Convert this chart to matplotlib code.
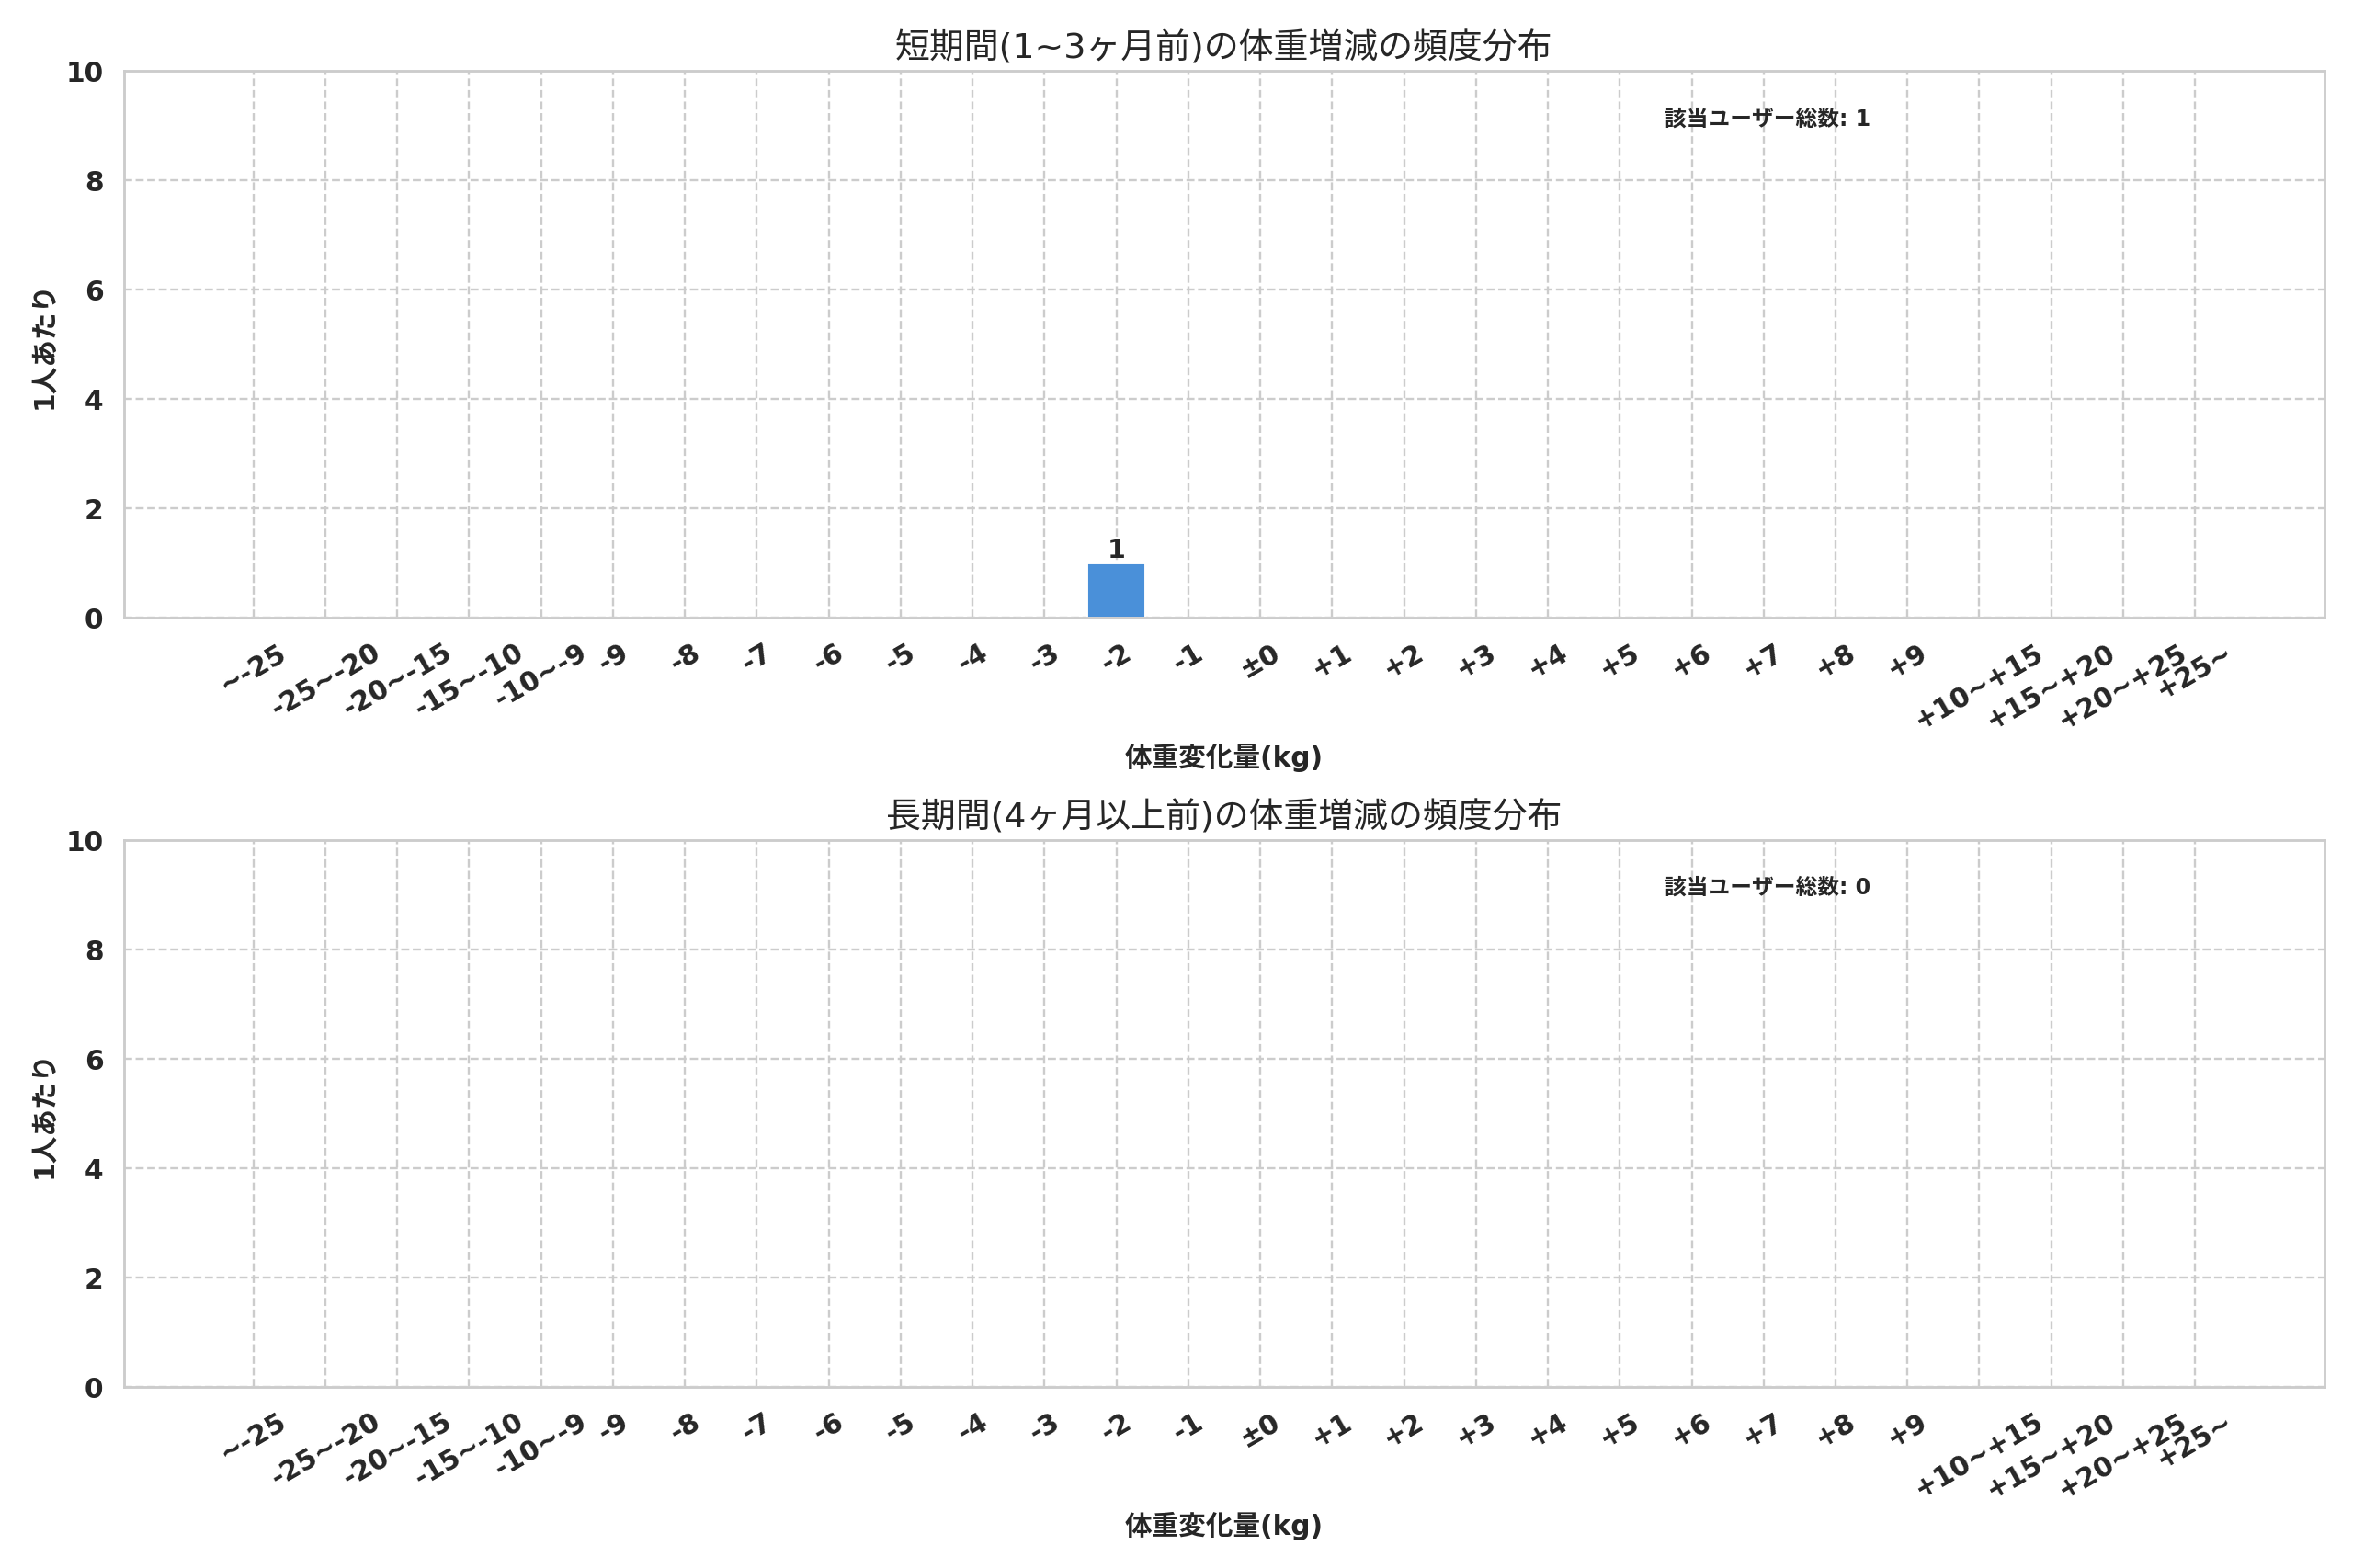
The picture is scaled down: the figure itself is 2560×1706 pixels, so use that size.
import matplotlib
matplotlib.use("Agg")
import matplotlib.pyplot as plt
import seaborn as sns

sns.set_theme(style="whitegrid")
plt.rcParams['font.family'] = ['DejaVu Sans', 'Noto Sans CJK JP']

categories = ["~-25", "-25~-20", "-20~-15", "-15~-10", "-10~-9",
              "-9", "-8", "-7", "-6", "-5", "-4", "-3", "-2", "-1", "±0",
              "+1", "+2", "+3", "+4", "+5", "+6", "+7", "+8", "+9",
              "+10~+15", "+15~+20", "+20~+25", "+25~"]
counts_short = [0, 0, 0, 0, 0, 0, 0, 0, 0, 0, 0, 0, 1, 0, 0,
                0, 0, 0, 0, 0, 0, 0, 0, 0, 0, 0, 0, 0]
counts_long = [0] * 28

titles = ["短期間(1~3ヶ月前)の体重増減の頻度分布",
          "長期間(4ヶ月以上前)の体重増減の頻度分布"]
xlabel = "体重変化量(kg)"
ylabel = "1人あたり"
total_label = "該当ユーザー総数"

fig = plt.figure(figsize=(15, 10))
ax1 = fig.add_axes([0.0527, 0.6057, 0.9352, 0.3486])
ax2 = fig.add_axes([0.0527, 0.1154, 0.9352, 0.3486])

bar_color = "#4a90d9"
for ax, counts, title in [(ax1, counts_short, titles[0]), (ax2, counts_long, titles[1])]:
    x = list(range(len(categories)))
    bars = ax.bar(x, counts, width=0.8, color=bar_color, edgecolor="white", linewidth=0.8)
    for b, c in zip(bars, counts):
        if c > 0:
            ax.text(b.get_x() + b.get_width() / 2, b.get_height(), str(c),
                    ha="center", va="bottom", fontsize=12, fontweight="bold", color="#262626")
    ax.set_xticks(x)
    ax.set_xticklabels(categories, rotation=30, ha="center", fontsize=12.5, fontweight="bold")
    ax.set_xlim(-1.8, 28.8)
    ax.set_ylim(0, 10)
    ax.set_yticks([0, 2, 4, 6, 8, 10])
    for lab in ax.get_yticklabels():
        lab.set_fontweight("bold")
        lab.set_fontsize(12.5)
    ax.grid(True, linestyle="--", color="#cccccc", linewidth=1.0)
    ax.set_axisbelow(True)
    for s in ax.spines.values():
        s.set_color("#cccccc")
        s.set_linewidth(1.2)
    ax.set_title(title, fontsize=16)
    ax.set_xlabel(xlabel, fontsize=12.5, fontweight="bold")
    ax.set_ylabel(ylabel, fontsize=12.5, fontweight="bold")
    ax.text(0.70, 0.914, f"{total_label}: {sum(counts)}", transform=ax.transAxes,
            ha="left", va="center", fontsize=10, fontweight="bold", color="#262626")

fig.savefig("out.png", dpi=2560 / 15)
